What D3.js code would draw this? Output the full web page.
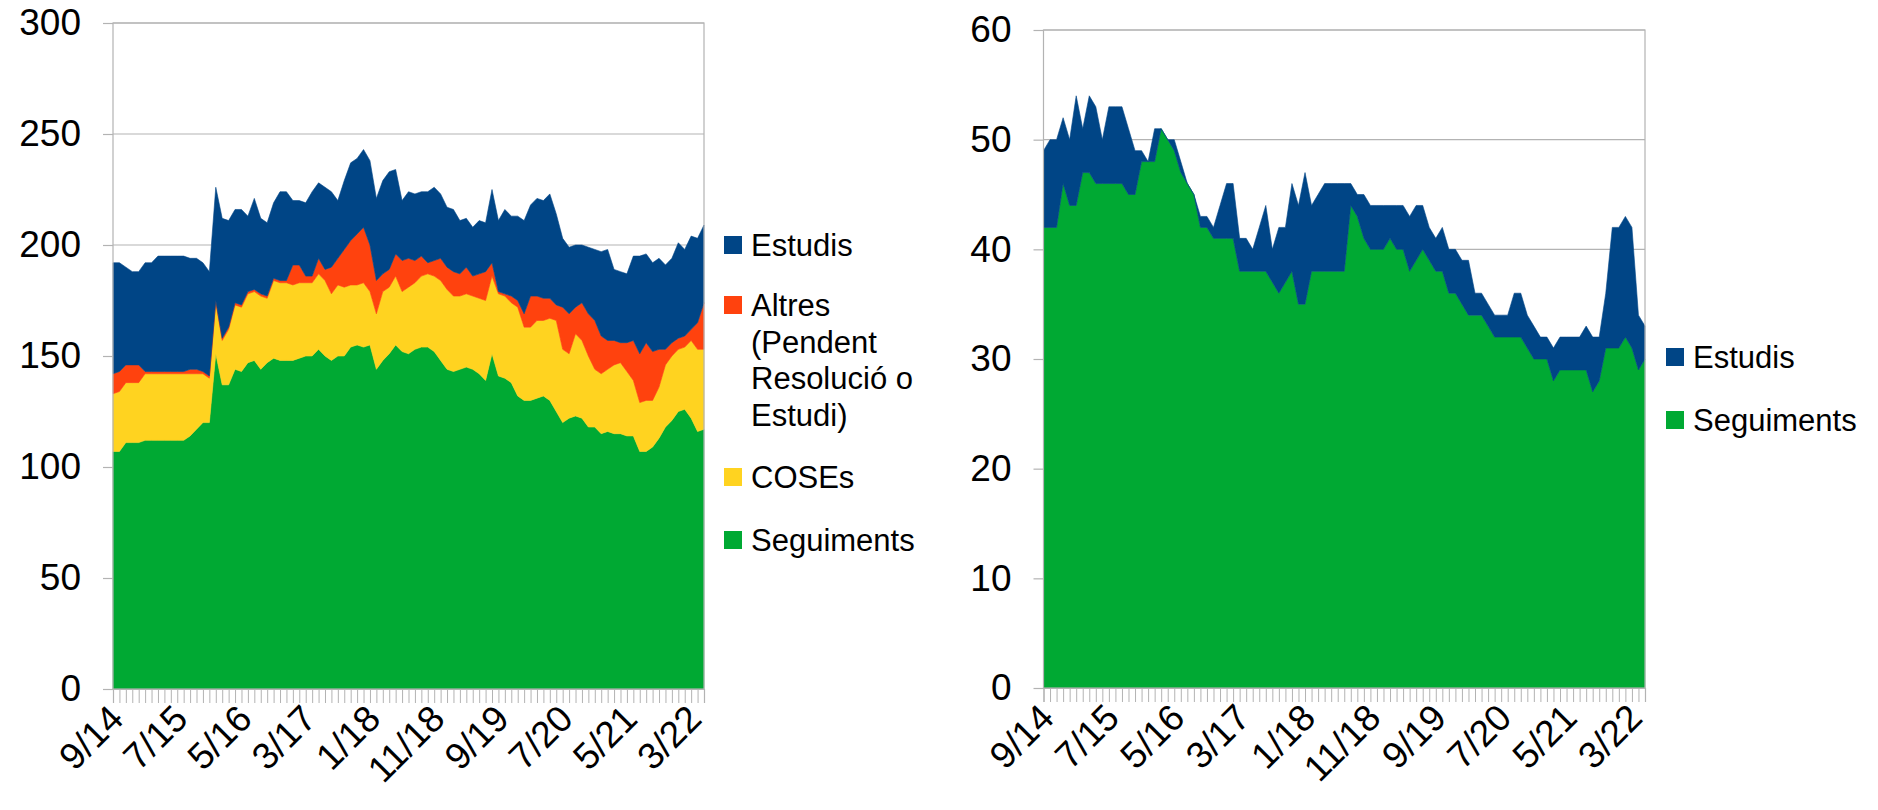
<!DOCTYPE html>
<html><head><meta charset="utf-8">
<script src="https://cdn.jsdelivr.net/npm/d3@7"></script>
<style>
html,body{margin:0;padding:0;background:#fff;}
svg{display:block;font-family:"Liberation Sans",Arial,Helvetica,sans-serif;}
</style></head><body>
<svg id="chart" width="1878" height="810"></svg>
<script>
// ---------- DATA ----------
const categories = [
 "9/14","10/14","11/14","12/14",
 "1/15","2/15","3/15","4/15","5/15","6/15","7/15","8/15","9/15","10/15","11/15","12/15",
 "1/16","2/16","3/16","4/16","5/16","6/16","7/16","8/16","9/16","10/16","11/16","12/16",
 "1/17","2/17","3/17","4/17","5/17","6/17","7/17","8/17","9/17","10/17","11/17","12/17",
 "1/18","2/18","3/18","4/18","5/18","6/18","7/18","8/18","9/18","10/18","11/18","12/18",
 "1/19","2/19","3/19","4/19","5/19","6/19","7/19","8/19","9/19","10/19","11/19","12/19",
 "1/20","2/20","3/20","4/20","5/20","6/20","7/20","8/20","9/20","10/20","11/20","12/20",
 "1/21","2/21","3/21","4/21","5/21","6/21","7/21","8/21","9/21","10/21","11/21","12/21",
 "1/22","2/22","3/22","4/22","5/22"
];

// Left chart (stacked, bottom to top)
const seguimentsA = [107,107,111,111,111,112,112,112,112,112,
 112,112,114,117,120,120,151,137,137,144,
 143,147,148,144,147,149,148,148,148,149,
 150,150,153,150,148,150,150,154,155,154,
 155,144,148,151,155,152,151,153,154,154,
 152,148,144,143,144,145,144,142,139,151,
 141,140,138,132,130,130,131,132,130,125,
 120,122,123,122,118,118,115,116,115,115,
 114,114,107,107,109,113,118,121,125,126,
 122,116,117];
const cosesA = [26,27,27,27,27,30,30,30,30,30,
 30,30,28,25,22,20,23,20,25,29,
 29,31,31,33,29,35,35,35,34,34,
 33,33,34,34,30,32,31,28,27,29,
 24,25,31,30,31,27,30,30,32,33,
 34,36,36,34,33,33,33,34,36,35,
 37,37,36,40,33,33,35,34,37,41,
 33,29,37,35,32,26,27,28,31,32,
 29,25,22,23,21,23,28,29,28,28,
 35,37,36];
const altresA = [9,9,8,8,8,1,1,1,1,1,
 1,1,2,2,1,1,1,1,1,1,
 1,1,1,1,1,1,1,1,9,8,
 3,3,7,5,12,12,17,20,23,25,
 21,15,8,8,10,14,13,10,9,5,
 7,10,10,11,10,12,9,11,13,6,
 1,1,3,3,6,14,11,10,9,7,
 19,18,12,17,19,22,17,13,11,9,
 13,18,22,26,22,17,7,6,5,5,
 5,12,21];
const estudisA = [50,49,44,42,42,49,49,52,52,52,
 52,52,50,50,49,47,51,54,48,42,
 43,34,41,34,33,34,40,40,29,29,
 33,38,34,37,34,26,31,35,34,35,
 38,37,42,44,38,27,30,30,29,32,
 33,29,27,28,24,22,22,24,22,33,
 32,38,36,38,42,41,44,44,47,41,
 31,30,28,26,30,32,38,41,32,32,
 31,38,44,40,40,41,38,38,43,39,
 42,38,35];

// Right chart (stacked, bottom to top)
const seguimentsB = [42,42,42,46,44,44,47,47,46,46,
 46,46,46,45,45,48,48,48,51,50,
 49,47,46,45,42,42,41,41,41,41,
 38,38,38,38,38,37,36,37,38,35,
 35,38,38,38,38,38,38,44,43,41,
 40,40,40,41,40,40,38,39,40,39,
 38,38,36,36,35,34,34,34,33,32,
 32,32,32,32,31,30,30,30,28,29,
 29,29,29,29,27,28,31,31,31,32,
 31,29,30];
const estudisB = [7,8,8,6,6,10,4,7,7,4,
 7,7,7,6,4,1,0,3,0,0,
 1,1,0,0,1,1,1,3,5,5,
 3,3,2,4,6,3,6,5,8,9,
 12,6,7,8,8,8,8,2,2,4,
 4,4,4,3,4,4,5,5,4,3,
 3,4,4,4,4,5,2,2,2,2,
 2,2,4,4,3,3,2,2,3,3,
 3,3,3,4,5,4,5,11,11,11,
 11,5,3];

const yTicksA = [0,50,100,150,200,250,300];
const yTicksB = [0,10,20,30,40,50,60];
const labelEvery = 10;

const COLORS = {Estudis:"#004586", Altres:"#ff420e", COSEs:"#ffd320", Seguiments:"#00a933"};

// ---------- DRAW ----------
const svg = d3.select("#chart");
const FS_LEG = 31;
const FS_AX = 37;
const GRID = "#b3b3b3";

function panel(o){
  const g = svg.append("g");
  const x = d3.scalePoint().domain(categories).range([o.x0, o.x1]);
  const y = d3.scaleLinear().domain([0, o.yMax]).range([o.y1, o.y0]);

  // gridlines
  g.append("g").selectAll("line").data(o.yTicks).join("line")
    .attr("x1", o.x0).attr("x2", o.x1)
    .attr("y1", d => y(d)).attr("y2", d => y(d))
    .attr("stroke", GRID).attr("stroke-width", 1.2);

  // stacked areas
  const table = categories.map((c, i) => {
    const r = {cat: c};
    o.series.forEach(s => r[s.name] = s.values[i]);
    return r;
  });
  const stacked = d3.stack().keys(o.series.map(s => s.name))(table);
  const area = d3.area()
    .x(d => x(d.data.cat))
    .y0(d => y(d[0])).y1(d => y(d[1]));
  g.append("g").selectAll("path").data(stacked).join("path")
    .attr("d", area)
    .attr("fill", (d, i) => o.series[i].color)
    .attr("stroke", (d, i) => o.series[i].color)
    .attr("stroke-width", 0.6);

  // frame
  g.append("rect").attr("x", o.x0).attr("y", o.y0)
    .attr("width", o.x1 - o.x0).attr("height", o.y1 - o.y0)
    .attr("fill", "none").attr("stroke", GRID).attr("stroke-width", 1.2);

  // y axis
  const ya = g.append("g").attr("transform", `translate(${o.x0},0)`)
    .call(d3.axisLeft(y).tickValues(o.yTicks).tickSize(10).tickPadding(22).tickFormat(d3.format("d")));
  ya.select(".domain").remove();
  ya.selectAll(".tick line").attr("stroke", GRID).attr("stroke-width", 1.2);
  ya.selectAll(".tick text").attr("font-size", FS_AX).attr("fill", "#000")
    .attr("font-family", "Liberation Sans, Arial, sans-serif");

  // x axis
  const xa = g.append("g").attr("transform", `translate(0,${o.y1})`)
    .call(d3.axisBottom(x).tickSize(14).tickFormat((d, i) => i % labelEvery === 0 ? d : ""));
  xa.select(".domain").attr("stroke", GRID).attr("stroke-width", 1.2);
  xa.selectAll(".tick line").attr("stroke", GRID).attr("stroke-width", 1);
  xa.selectAll(".tick text")
    .attr("font-size", FS_AX).attr("fill", "#000")
    .attr("font-family", "Liberation Sans, Arial, sans-serif")
    .attr("text-anchor", "end")
    .attr("dy", null).attr("y", null)
    .attr("transform", "translate(12,32) rotate(-45)");

  // legend
  const lg = g.append("g");
  o.legend.forEach(L => {
    lg.append("rect").attr("x", o.legX).attr("y", L.y - 9).attr("width", 18).attr("height", 18)
      .attr("fill", COLORS[L.name]);
    const t = lg.append("text").attr("x", o.legX + 27).attr("y", L.y)
      .attr("font-size", FS_LEG).attr("dominant-baseline", "central").attr("fill", "#000");
    L.lines.forEach((ln, k) => {
      t.append("tspan").attr("x", o.legX + 27).attr("y", L.y + k * 36.5).text(ln);
    });
  });
}

panel({
  x0: 113, x1: 704, y0: 23, y1: 689, yMax: 300, yTicks: yTicksA,
  series: [
    {name: "Seguiments", values: seguimentsA, color: COLORS.Seguiments},
    {name: "COSEs", values: cosesA, color: COLORS.COSEs},
    {name: "Altres", values: altresA, color: COLORS.Altres},
    {name: "Estudis", values: estudisA, color: COLORS.Estudis}
  ],
  legX: 724,
  legend: [
    {name: "Estudis", y: 245, lines: ["Estudis"]},
    {name: "Altres", y: 305, lines: ["Altres", "(Pendent", "Resolució o", "Estudi)"]},
    {name: "COSEs", y: 477, lines: ["COSEs"]},
    {name: "Seguiments", y: 540, lines: ["Seguiments"]}
  ]
});

panel({
  x0: 1043.5, x1: 1645, y0: 30, y1: 688, yMax: 60, yTicks: yTicksB,
  series: [
    {name: "Seguiments", values: seguimentsB, color: COLORS.Seguiments},
    {name: "Estudis", values: estudisB, color: COLORS.Estudis}
  ],
  legX: 1666,
  legend: [
    {name: "Estudis", y: 357, lines: ["Estudis"]},
    {name: "Seguiments", y: 420, lines: ["Seguiments"]}
  ]
});
</script>
</body></html>
